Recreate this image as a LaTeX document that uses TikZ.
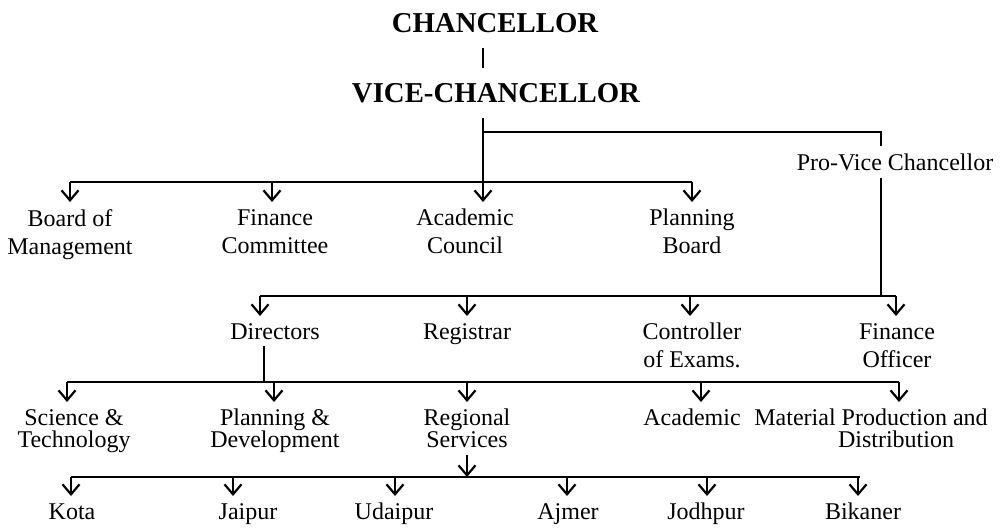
\documentclass[tikz,border=0pt]{standalone}
\usepackage{fontspec}
\setmainfont{Liberation Serif}
\usetikzlibrary{arrows.meta,calc}

\begin{document}
\begin{tikzpicture}[x=0.5pt, y=-0.5pt, line width=1.1pt,
  head/.style={font=\bfseries\fontsize{14.4}{17}\selectfont, inner xsep=0pt, inner ysep=7pt},
  unit/.style={font=\fontsize{12}{14}\selectfont, align=center, anchor=north, inner sep=3pt},
  tight/.style={unit, font=\fontsize{12}{11}\selectfont},
  city/.style={font=\fontsize{12}{14}\selectfont, anchor=north, inner sep=3pt,
    text height=8.4pt, text depth=2.6pt},
  arr/.style={-{Straight Barb[length=5pt,width=8.5pt]}}]
  \useasboundingbox (0,0) rectangle (1005,527);

  % top of the tree
  \node[head] (chan) at (495,23) {CHANCELLOR};
  \node[head] (vc) at (496,93) {VICE-CHANCELLOR};
  \node[unit, anchor=center] (pvc) at (895,162) {Pro-Vice Chancellor};
  \coordinate (spine) at (483,0);
  \coordinate (b0) at (483,132);

  % first row
  \node[unit] (bom) at (70,202) {Board of\\Management};
  \node[unit] (fc) at (275,202) {Finance\\Committee};
  \node[unit] (ac) at (465,202) {Academic\\Council};
  \node[unit] (pb) at (692,202) {Planning\\Board};

  % second row
  \node[unit] (dir) at (275,316) {Directors};
  \node[unit] (reg) at (467,316) {Registrar};
  \node[unit] (coe) at (692,316) {Controller\\of Exams.};
  \node[unit] (fo) at (897,316) {Finance\\Officer};

  % third row
  \node[tight] (st) at (74,402) {Science \&\\Technology};
  \node[tight] (pd) at (275,402) {Planning \&\\Development};
  \node[tight] (rs) at (467,402) {Regional\\Services};
  \node[tight] (aca) at (692,402) {Academic};
  \node[tight] (mpd) at (871,402) {Material Production and\\\hspace*{25pt}Distribution};

  % regional centres
  \node[city] (kota) at (72,496) {Kota};
  \node[city] (jai) at (248,496) {Jaipur};
  \node[city] (uda) at (394,496) {Udaipur};
  \node[city] (ajm) at (568,496) {Ajmer};
  \node[city] (jod) at (706,496) {Jodhpur};
  \node[city] (bik) at (863,496) {Bikaner};

  % bus lines
  \coordinate (b1w) at (70,182);  \coordinate (b1e) at (692,182);
  \coordinate (b2w) at (260,296); \coordinate (b2e) at (896,296);
  \coordinate (b3w) at (67,382);  \coordinate (b3e) at (899,382);
  \coordinate (b4w) at (71,477);  \coordinate (b4e) at (860,477);
  \foreach \lv in {1,...,4}
    \draw (b\lv w) -- (b\lv e);

  \draw (chan.south -| spine) -- (vc.north -| spine);
  \draw[arr] (vc.south -| spine) -- (ac.north -| spine);
  \draw (b0) -| ($(pvc.north)+(-7pt,0)$);
  \draw let \p1=($(pvc.south)+(-7pt,0)$), \p2=(b2e) in (\p1) -- (\x1,\y2);
  \draw let \p1=(dir.south), \p2=(b3w) in ({\x1-5.5pt},\y1) -- ({\x1-5.5pt},\y2);
  \draw[arr] (rs.south) -- (rs.south |- b4w);

  \foreach \nd/\off/\lv in {bom/0/1, fc/-3/1, pb/0/1,
      dir/-15/2, reg/0/2, coe/-2/2, fo/-1/2,
      st/-7/3, pd/-1/3, rs/0/3, aca/9/3, mpd/28/3,
      kota/-1/4, jai/-15/4, uda/1/4, ajm/-1/4, jod/1/4, bik/-5/4}
    \draw[arr] let \p1=(\nd.north), \p2=(b\lv w) in
      ({\x1+(\off)*0.5pt},\y2) -- ({\x1+(\off)*0.5pt},\y1);
\end{tikzpicture}
\end{document}
